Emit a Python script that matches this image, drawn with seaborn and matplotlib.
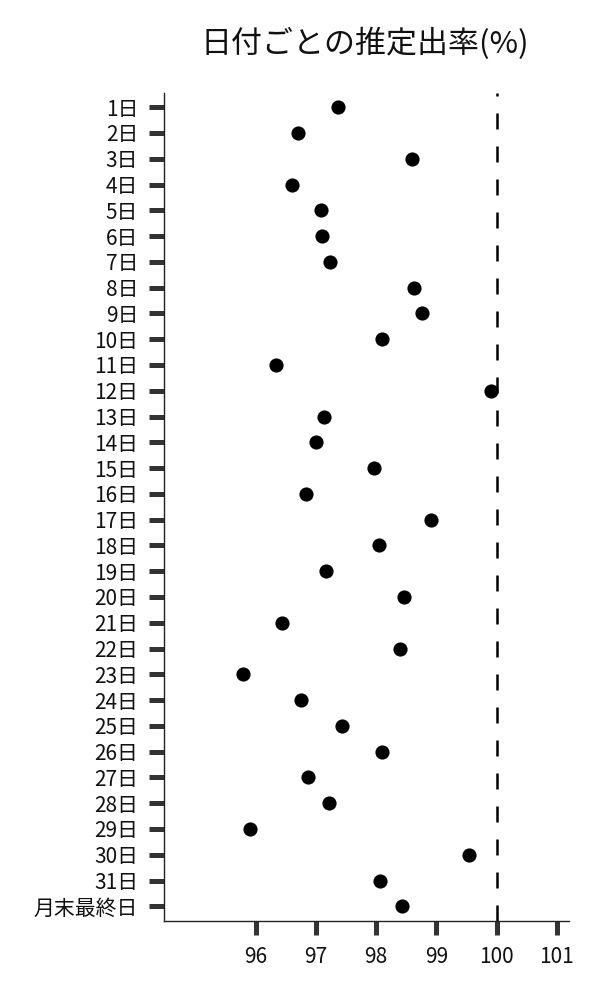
import matplotlib
matplotlib.use("Agg")
import matplotlib.pyplot as plt
import seaborn as sns
import pandas as pd

days = [f"{i}日" for i in range(1, 32)] + ["月末最終日"]
rates = [97.37, 96.70, 98.59, 96.61, 97.09, 97.10, 97.24, 98.63, 98.77, 98.09,
         96.33, 99.90, 97.13, 97.01, 97.96, 96.84, 98.91, 98.05, 97.17, 98.46,
         96.44, 98.39, 95.79, 96.75, 97.43, 98.09, 96.87, 97.21, 95.91, 99.55,
         98.06, 98.43]
x_ticks = [96, 97, 98, 99, 100, 101]
ref_value = 100
title = "日付ごとの推定出率(%)"

sns.set_style("ticks")
plt.rcParams["font.family"] = ["Noto Sans CJK JP", "DejaVu Sans"]

df = pd.DataFrame({"day": days, "rate": rates})

fig = plt.figure(figsize=(6, 10), dpi=100)
ax = fig.add_axes([0.274, 0.079, 0.674, 0.828])

sns.stripplot(data=df, x="rate", y="day", order=days, jitter=False,
              color="black", size=10.2, linewidth=0, ax=ax, zorder=3)
ax.axvline(ref_value, color="black", lw=1.8, linestyle=(0, (6.4, 6.8)), zorder=2)

ax.set_xlim(94.485, 101.2)
n = len(days)
ax.set_ylim(n - 1 + 0.57, -0.55)
ax.set_xticks(x_ticks)
ax.set_xticklabels([str(t) for t in x_ticks])
ax.set_xlabel("")
ax.set_ylabel("")

for side in ["top", "right"]:
    ax.spines[side].set_visible(False)
for side in ["left", "bottom"]:
    ax.spines[side].set_color("#222222")
    ax.spines[side].set_linewidth(1.0)

ax.tick_params(axis="y", length=10.8, width=3.6, color="#333333",
               labelsize=15, pad=8, labelcolor="#111111")
ax.tick_params(axis="x", length=10, width=3.6, color="#333333",
               labelsize=15, pad=8, labelcolor="#111111")

fig.text(0.6075, 1 - 53 / 1000, title, ha="center", va="baseline",
         fontsize=22.3, color="#111111")

fig.savefig("out.png", dpi=100, facecolor="white")
